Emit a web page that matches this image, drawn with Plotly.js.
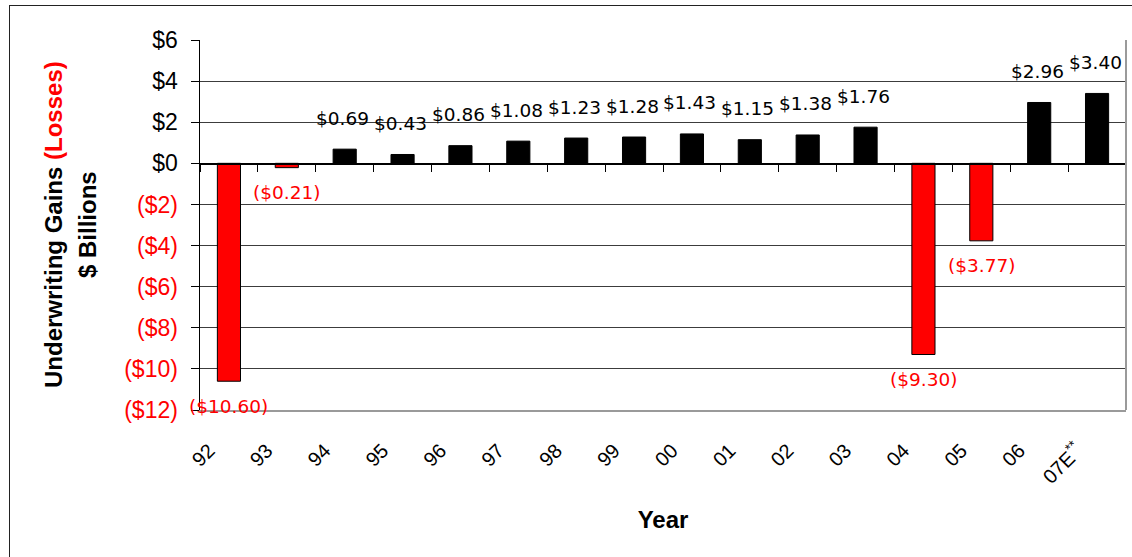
<!DOCTYPE html>
<html>
<head>
<meta charset="utf-8">
<script src="https://cdn.plot.ly/plotly-3.0.1.min.js"></script>
<style>
  html, body { margin: 0; padding: 0; background: #fff; overflow: hidden; }
  #wrap { position: relative; width: 1132px; height: 557px; }
  #chart { width: 1132px; height: 557px; }
  #frame { position: absolute; left: 9px; top: 5px; width: 1200px; height: 700px;
           border: 1.5px solid #222; pointer-events: none; }
</style>
</head>
<body>
<div id="wrap">
  <div id="chart"></div>
  <div id="frame"></div>
</div>
<script>
// Underwriting results by year, $ billions
const years = ['92','93','94','95','96','97','98','99','00','01','02','03','04','05','06','07E**'];
const yearLabels = ['92','93','94','95','96','97','98','99','00','01','02','03','04','05','06','07E<sup>**</sup>'];
const gains = [-10.60, -0.21, 0.69, 0.43, 0.86, 1.08, 1.23, 1.28, 1.43, 1.15, 1.38, 1.76, -9.30, -3.77, 2.96, 3.40];

// Y axis ticks
const yTickVals = [6, 4, 2, 0, -2, -4, -6, -8, -10, -12];

const RED = '#ff0000';
const money = v => v < 0 ? '($' + Math.abs(v).toFixed(2) + ')' : '$' + v.toFixed(2);
const tickMoney = v => v < 0 ? '<span style="color:' + RED + '">($' + Math.abs(v) + ')</span>' : '$' + v;

const bars = {
  type: 'bar',
  x: years,
  y: gains,
  width: 0.4,
  marker: {
    color: gains.map(v => v < 0 ? RED : '#000000'),
    line: { color: '#000000', width: 1 }
  },
  hoverinfo: 'x+y',
  showlegend: false
};

// empty trace so the zero-line tick axis is laid out
const zeroAxisCarrier = {
  type: 'scatter', x: [], y: [], xaxis: 'x2', yaxis: 'y',
  hoverinfo: 'skip', showlegend: false
};

// value labels, placed by category index
const valueNotes = years.map((yr, i) => ({
  x: i, y: gains[i], xref: 'x', yref: 'y',
  text: money(gains[i]),
  showarrow: false,
  xanchor: 'center', yanchor: 'middle',
  xshift: gains[i] < 0 ? 0 : -2,
  yshift: gains[i] < 0 ? -25 : 31,
  font: { family: 'DejaVu Sans', size: 18.5, color: gains[i] < 0 ? RED : '#000000' }
}));

const titleFont = { family: 'Liberation Sans, Arial, sans-serif', size: 24, color: '#000', weight: 'bold' };
const titleNotes = [
  {
    xref: 'paper', yref: 'paper', x: 0, y: 0.5, xshift: -147,
    xanchor: 'center', yanchor: 'middle', textangle: -90, showarrow: false,
    text: 'Underwriting Gains <span style="color:' + RED + '">(Losses)</span>',
    font: titleFont
  },
  {
    xref: 'paper', yref: 'paper', x: 0, y: 0.5, xshift: -113,
    xanchor: 'center', yanchor: 'middle', textangle: -90, showarrow: false,
    text: '$ Billions',
    font: titleFont
  }
];

const layout = {
  width: 1132, height: 557,
  margin: { l: 200, r: 6, t: 40, b: 147 },
  paper_bgcolor: '#ffffff',
  plot_bgcolor: '#ffffff',
  showlegend: false,
  bargap: 0.6,
  xaxis: {
    type: 'category',
    range: [-0.5, 15.5],
    tickvals: years,
    ticktext: yearLabels,
    tickangle: -45,
    ticks: '',
    ticklabelshift: -20,
    ticklabelstandoff: 19,
    tickfont: { family: 'Liberation Sans, Arial, sans-serif', size: 20, color: '#000' },
    showgrid: false,
    zeroline: false,
    showline: true,
    linecolor: '#9a9a9a',
    linewidth: 2,
    title: {
      text: 'Year',
      standoff: 24,
      font: { family: 'Liberation Sans, Arial, sans-serif', size: 24, color: '#000', weight: 'bold' }
    },
    fixedrange: true
  },
  // category boundary ticks along the zero line
  xaxis2: {
    overlaying: 'x',
    anchor: 'free',
    position: 12 / 18,
    side: 'bottom',
    type: 'linear',
    range: [-0.5, 15.5],
    tickmode: 'linear',
    tick0: -0.5,
    dtick: 1,
    ticks: 'outside',
    ticklen: 7,
    tickwidth: 1,
    tickcolor: '#000',
    showticklabels: false,
    showgrid: false,
    zeroline: false,
    showline: true,
    linecolor: '#000',
    linewidth: 1.5,
    fixedrange: true
  },
  yaxis: {
    range: [-12, 6],
    tickmode: 'array',
    tickvals: yTickVals,
    ticktext: yTickVals.map(tickMoney),
    ticks: 'outside',
    ticklen: 8,
    tickcolor: '#000',
    ticklabelstandoff: 8,
    tickfont: { family: 'Liberation Sans, Arial, sans-serif', size: 23, color: '#000' },
    showgrid: true,
    gridcolor: '#3c3c3c',
    gridwidth: 1,
    zeroline: true,
    zerolinecolor: '#000',
    zerolinewidth: 1.5,
    showline: true,
    linecolor: '#000',
    linewidth: 1.5,
    fixedrange: true
  },
  shapes: [
    { type: 'line', xref: 'paper', yref: 'paper', x0: 1, x1: 1, y0: 0, y1: 1,
      line: { color: '#9a9a9a', width: 2 } }
  ],
  annotations: valueNotes.concat(titleNotes)
};

Plotly.newPlot('chart', [bars, zeroAxisCarrier], layout, { displayModeBar: false, staticPlot: true });
</script>
</body>
</html>
